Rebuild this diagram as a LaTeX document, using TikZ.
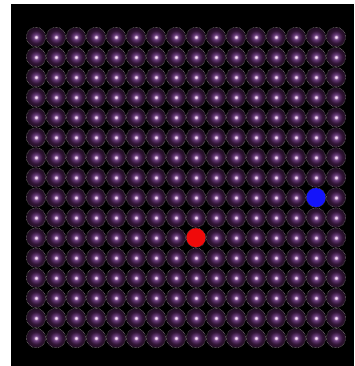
\documentclass[tikz,border=0pt]{standalone}
\usepackage{xcolor}
\usetikzlibrary{positioning}

\definecolor{atomcore}{RGB}{250,225,245}
\definecolor{atomglow}{RGB}{110,65,130}
\definecolor{atombody}{RGB}{48,20,52}
\definecolor{atomedge}{RGB}{22,9,24}
\definecolor{ringgray}{RGB}{175,180,165}
\definecolor{hotred}{RGB}{240,10,10}
\definecolor{hotblue}{RGB}{20,20,250}

\pgfdeclareradialshading{atomshade}{\pgfpoint{0bp}{0bp}}{%
  color(0bp)=(atomcore); color(2bp)=(atomcore);
  color(6bp)=(atomglow); color(16bp)=(atombody);
  color(30bp)=(atomedge); color(50bp)=(black)}

\tikzset{
  atom/.style={circle, inner sep=0pt, minimum size=19.5pt, shading=atomshade,
    draw=ringgray, densely dotted, line width=0.45pt},
  tracer/.style={circle, inner sep=0pt, minimum size=19pt, fill=#1}
}

\begin{document}
\begin{tikzpicture}[x=1pt, y=-1pt]
  \useasboundingbox (0,0) rectangle (354,366);
  % dark background of the lattice
  \fill[black] (11,4) rectangle (354,366);
  % square lattice of atoms
  \foreach \i in {0,...,15} {
    \foreach \j in {0,...,15} {
      \node[atom] (a-\i-\j) at (36+20*\i, 37+20.07*\j) {};
    }
  }
  % marked atoms
  \node[tracer=hotred] (red) at (a-8-10) {};
  \node[tracer=hotblue] (blue) at (a-14-8) {};
\end{tikzpicture}
\end{document}
